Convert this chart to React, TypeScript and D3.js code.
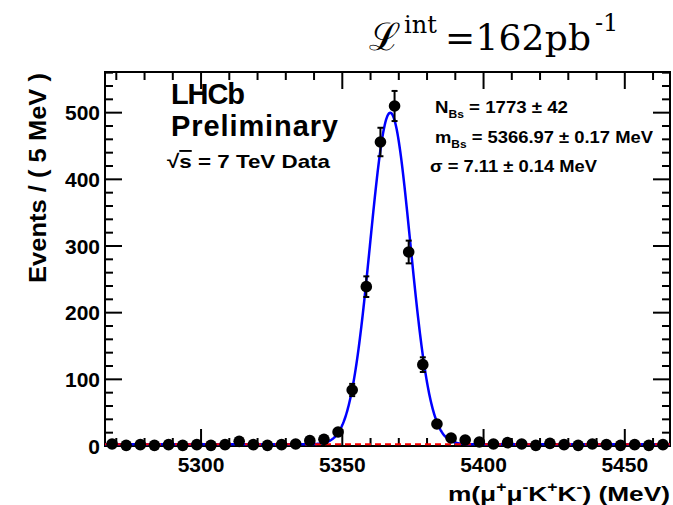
import React, { useEffect } from 'react';
import * as d3 from 'd3';

// Data
const binCenters = [
  5268.5, 5273.5, 5278.5, 5283.5, 5288.5, 5293.5, 5298.5, 5303.5, 5308.5, 5313.5,
  5318.5, 5323.5, 5328.5, 5333.5, 5338.5, 5343.5, 5348.5, 5353.5, 5358.5, 5363.5,
  5368.5, 5373.5, 5378.5, 5383.5, 5388.5, 5393.5, 5398.5, 5403.5, 5408.5, 5413.5,
  5418.5, 5423.5, 5428.5, 5433.5, 5438.5, 5443.5, 5448.5, 5453.5, 5458.5, 5463.5,
];
const counts = [
  3, 1, 2, 1, 2, 1, 2, 1, 2, 7,
  2, 1, 2, 3, 8, 10, 21, 84, 239, 456,
  510, 291, 122, 33, 12, 9, 6, 3, 5, 3,
  1, 4, 2, 1, 3, 2, 1, 2, 1, 2,
];
const xTickValues = [5300, 5350, 5400, 5450];
const yTickValues = [0, 100, 200, 300, 400, 500];
// Fit parameters (as printed on the chart)
const fitN = 1773;
const fitMean = 5366.97;
const fitSigma = 7.11;
const binWidth = 5;
const bkgLevel = 2.5;

const W = 673;
const H = 505;
const L = 105, R = 670, T = 72, B = 446;

export default function App() {
  useEffect(() => {
    document.body.style.margin = '0';
  }, []);

  const x = d3.scaleLinear().domain([5266, 5466]).range([L, R]);
  const y = d3.scaleLinear().domain([0, 561]).range([B, T]);

  const amp = (fitN * binWidth) / (Math.sqrt(2 * Math.PI) * fitSigma);
  const massGrid = d3.range(5266, 5466.01, 0.25);
  const fitLine = d3
    .line<number>()
    .x((m) => x(m))
    .y((m) => y(bkgLevel + amp * Math.exp(-0.5 * ((m - fitMean) / fitSigma) ** 2)));
  const bkgLine = d3
    .line<number>()
    .x((m) => x(m))
    .y(() => y(bkgLevel));

  const xMinor = d3.range(5270, 5466, 10);
  const yMinor = d3.range(0, 561, 20);
  const font = 'Liberation Sans, Arial, Helvetica, sans-serif';
  const serif = "'DejaVu Serif', 'Liberation Serif', serif";

  return (
    <svg width={W} height={H} style={{ display: 'block' }} fontFamily={font}>
      <rect x={0} y={0} width={W} height={H} fill="white" />
      {/* Title */}
      <g fontFamily={serif} fill="#000">
        <text x={369} y={50} fontSize={38}>ℒ</text>
        <text x={404} y={33} fontSize={24}>int</text>
        <text x={445} y={50} fontSize={36} textLength={146}>=162pb</text>
        <text x={595} y={31} fontSize={24}>-1</text>
      </g>

      <defs>
        <clipPath id="plotclip">
          <rect x={L} y={T} width={R - L} height={B - T} />
        </clipPath>
      </defs>

      {/* ticks */}
      {xMinor.map((v) => {
        const major = xTickValues.includes(v);
        const len = major ? 17 : 8;
        return (
          <g key={'xt' + v} stroke="#000" strokeWidth={2}>
            <line x1={x(v)} x2={x(v)} y1={B} y2={B - len} />
            <line x1={x(v)} x2={x(v)} y1={T} y2={T + len} />
          </g>
        );
      })}
      {yMinor.map((v) => {
        const major = v % 100 === 0;
        const len = major ? 17 : 8;
        return (
          <g key={'yt' + v} stroke="#000" strokeWidth={2}>
            <line x1={L} x2={L + len} y1={y(v)} y2={y(v)} />
            <line x1={R} x2={R - len} y1={y(v)} y2={y(v)} />
          </g>
        );
      })}

      {/* frame */}
      <rect x={L} y={T} width={R - L} height={B - T} fill="none" stroke="#000" strokeWidth={2} />

      {/* tick labels */}
      {xTickValues.map((v) => (
        <text key={'xl' + v} x={x(v)} y={472} textAnchor="middle" fontSize={21} fontWeight="bold">
          {v}
        </text>
      ))}
      {yTickValues.map((v) => (
        <text key={'yl' + v} x={100} y={y(v)} dy="0.36em" textAnchor="end" fontSize={21} fontWeight="bold">
          {v}
        </text>
      ))}

      {/* axis titles */}
      <text x={448} y={501} fontSize={21} fontWeight="bold" textLength={222} lengthAdjust="spacingAndGlyphs">
        <tspan>m(μ</tspan>
        <tspan fontSize={14} dy={-9}>+</tspan>
        <tspan dy={9}>μ</tspan>
        <tspan fontSize={14} dy={-9}>-</tspan>
        <tspan dy={9}>K</tspan>
        <tspan fontSize={14} dy={-9}>+</tspan>
        <tspan dy={9}>K</tspan>
        <tspan fontSize={14} dy={-9}>-</tspan>
        <tspan dy={9}>) (MeV)</tspan>
      </text>
      <text
        transform={`translate(46,283) rotate(-90)`}
        fontSize={23}
        fontWeight="bold"
        textLength={210}
        lengthAdjust="spacingAndGlyphs"
      >
        Events / ( 5 MeV )
      </text>

      {/* fit curves */}
      <g clipPath="url(#plotclip)">
        <path d={fitLine(massGrid) || ''} fill="none" stroke="#0000ff" strokeWidth={2.5} />
        <path d={bkgLine(massGrid) || ''} fill="none" stroke="#ff0000" strokeWidth={2} strokeDasharray="6 4" />
      </g>

      {/* data points */}
      {binCenters.map((m, i) => {
        const n = counts[i];
        const e = Math.sqrt(n);
        const cx = x(m);
        return (
          <g key={'p' + i} stroke="#000" strokeWidth={2}>
            <line x1={cx} x2={cx} y1={y(n + e)} y2={y(Math.max(0, n - e))} />
            <line x1={cx - 3} x2={cx + 3} y1={y(n + e)} y2={y(n + e)} />
            <line x1={cx - 3} x2={cx + 3} y1={y(Math.max(0, n - e))} y2={y(Math.max(0, n - e))} />
            <circle cx={cx} cy={y(n)} r={5.8} fill="#000" stroke="none" />
          </g>
        );
      })}

      {/* LHCb labels */}
      <text x={171} y={104} fontSize={29} fontWeight="bold" textLength={74}>LHCb</text>
      <text x={171} y={136} fontSize={29} fontWeight="bold" textLength={167}>Preliminary</text>
      <text x={167} y={168} fontSize={19} fontWeight="bold" textLength={163} lengthAdjust="spacingAndGlyphs">
        <tspan>√</tspan>
        <tspan textDecoration="overline">s</tspan>
        <tspan> = 7 TeV Data</tspan>
      </text>

      {/* fit results */}
      <text x={435} y={113} fontSize={17} fontWeight="bold" textLength={133} lengthAdjust="spacingAndGlyphs">
        <tspan>N</tspan>
        <tspan fontSize={11} dy={5}>Bs</tspan>
        <tspan dy={-5}> =  1773 ± 42</tspan>
      </text>
      <text x={435} y={143} fontSize={17} fontWeight="bold" textLength={218} lengthAdjust="spacingAndGlyphs">
        <tspan>m</tspan>
        <tspan fontSize={11} dy={5}>Bs</tspan>
        <tspan dy={-5}> =  5366.97 ± 0.17 MeV</tspan>
      </text>
      <text x={430} y={172} fontSize={17} fontWeight="bold" textLength={167} lengthAdjust="spacingAndGlyphs">
        σ =  7.11 ± 0.14 MeV
      </text>
    </svg>
  );
}
